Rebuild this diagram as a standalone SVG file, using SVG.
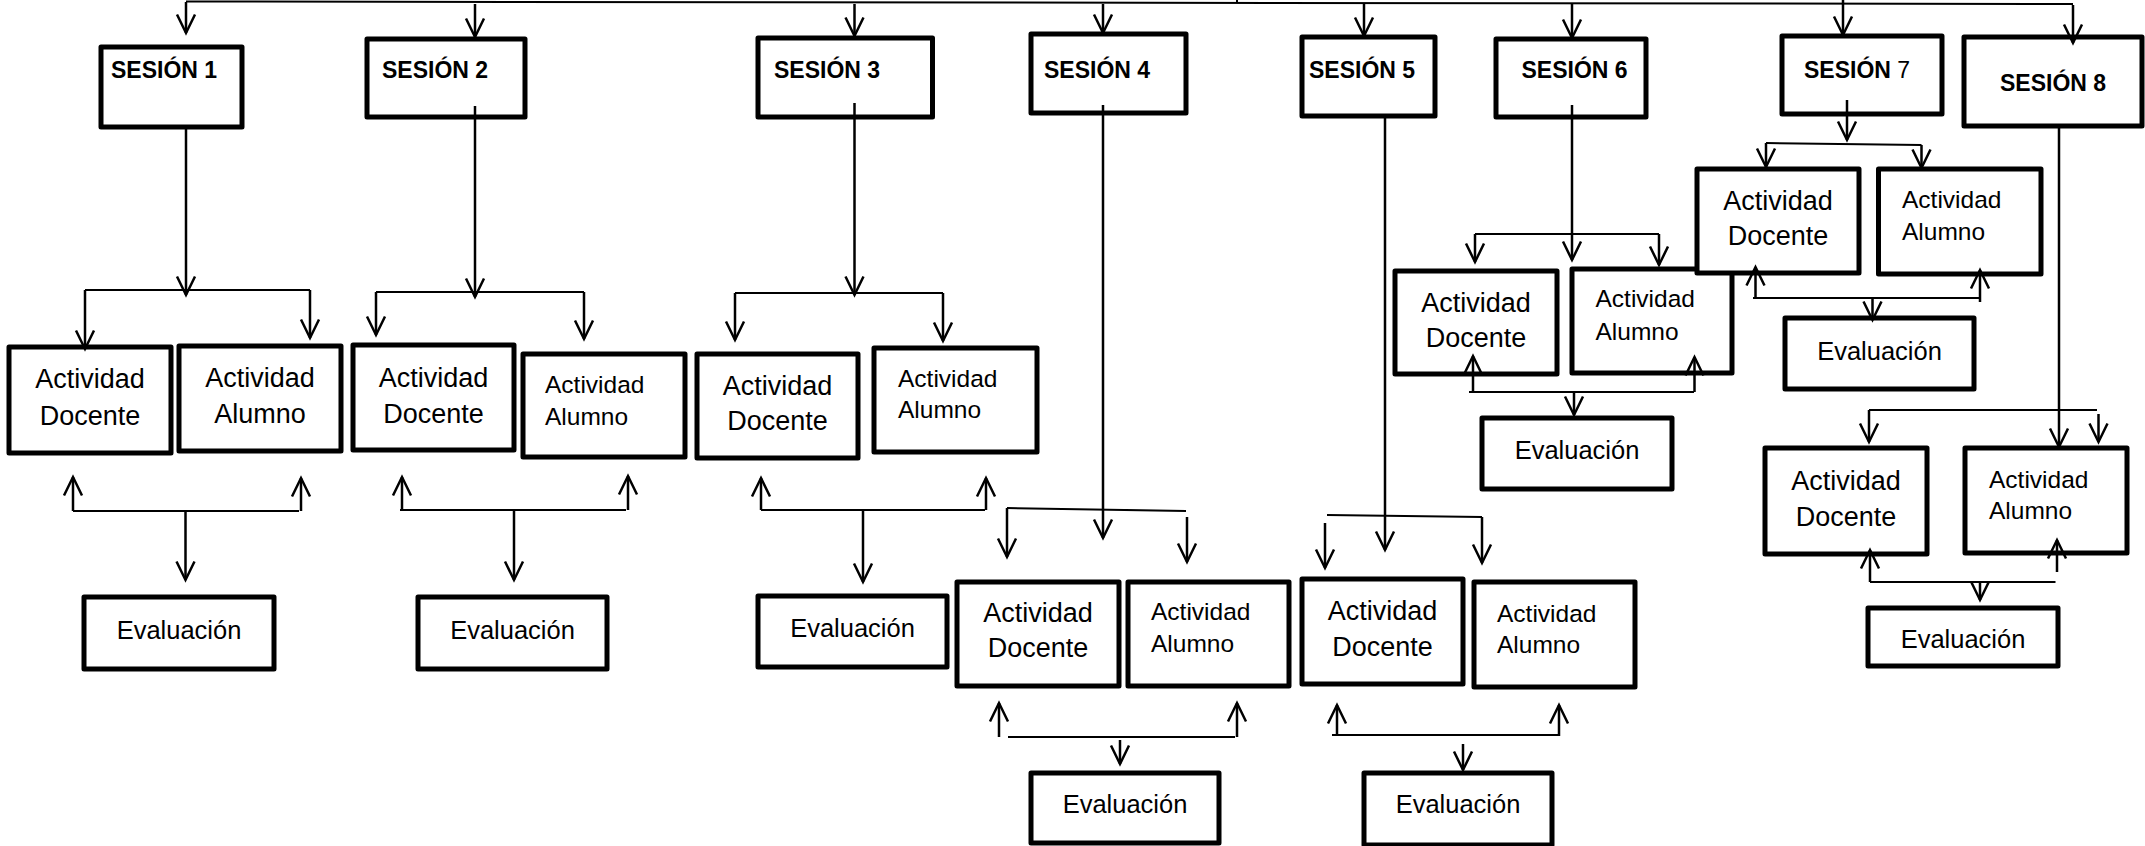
<svg xmlns="http://www.w3.org/2000/svg" width="2145" height="846" viewBox="0 0 2145 846">
<style>
.box{fill:#fff;stroke:#000;stroke-width:5;stroke-linejoin:round}
.c{stroke:#000;stroke-width:2;fill:none}
.a{stroke:#000;stroke-width:2.5;fill:none;marker-end:url(#ah)}
.s{font-family:"Liberation Sans",Arial,sans-serif;font-weight:bold;font-size:23px;fill:#000}
.t{font-family:"Liberation Sans",Arial,sans-serif;font-size:27px;fill:#000;text-anchor:middle}
.ts{font-family:"Liberation Sans",Arial,sans-serif;font-size:24.5px;fill:#000}
.e{font-family:"Liberation Sans",Arial,sans-serif;font-size:25.5px;fill:#000;text-anchor:middle}
</style>
<defs>
<marker id="ah" markerUnits="userSpaceOnUse" markerWidth="40" markerHeight="40" viewBox="-20 -20 40 40" refX="0" refY="0" orient="auto" overflow="visible">
<path d="M-18.5,-9 L0,0 L-18.5,9" fill="none" stroke="#000" stroke-width="2.5"/>
</marker>
</defs>
<rect width="2145" height="846" fill="#fff"/>

<g id="s1">
<rect class="box" x="101" y="47" width="141" height="80"/>
<text class="s" x="111" y="78">SESIÓN 1</text>
</g>
<g id="s1-docente"><rect class="box" x="9" y="347" width="162" height="106"/><text class="t" x="90" y="388">Actividad</text><text class="t" x="90" y="425">Docente</text></g>
<g id="s1-alumno"><rect class="box" x="179" y="346" width="162" height="105"/><text class="t" x="260" y="387">Actividad</text><text class="t" x="260" y="423">Alumno</text></g>
<g id="s1-eval"><rect class="box" x="84" y="597" width="190" height="72"/><text class="e" x="179" y="639">Evaluación</text></g>

<g id="s2">
<rect class="box" x="367" y="39" width="158" height="78"/>
<text class="s" x="382" y="78">SESIÓN 2</text>
</g>
<g id="s2-docente"><rect class="box" x="353" y="345" width="161" height="105"/><text class="t" x="433.5" y="387">Actividad</text><text class="t" x="433.5" y="423">Docente</text></g>
<g id="s2-alumno"><rect class="box" x="523" y="354" width="162" height="103"/><text class="ts" x="545" y="393">Actividad</text><text class="ts" x="545" y="425">Alumno</text></g>
<g id="s2-eval"><rect class="box" x="418" y="597" width="189" height="72"/><text class="e" x="512.5" y="639">Evaluación</text></g>

<g id="s3">
<rect class="box" x="758" y="38" width="174.5" height="79"/>
<text class="s" x="774" y="78">SESIÓN 3</text>
</g>
<g id="s3-docente"><rect class="box" x="697" y="354" width="161" height="104"/><text class="t" x="777.5" y="395">Actividad</text><text class="t" x="777.5" y="430">Docente</text></g>
<g id="s3-alumno"><rect class="box" x="874" y="348" width="163" height="104"/><text class="ts" x="898" y="387">Actividad</text><text class="ts" x="898" y="418">Alumno</text></g>
<g id="s3-eval"><rect class="box" x="758" y="596" width="189" height="71"/><text class="e" x="852.5" y="637">Evaluación</text></g>

<g id="s4">
<rect class="box" x="1031" y="34" width="155" height="79"/>
<text class="s" x="1044" y="78">SESIÓN 4</text>
</g>
<g id="s4-docente"><rect class="box" x="957" y="582" width="162" height="104"/><text class="t" x="1038" y="622">Actividad</text><text class="t" x="1038" y="657">Docente</text></g>
<g id="s4-alumno"><rect class="box" x="1128" y="582" width="161" height="104"/><text class="ts" x="1151" y="620">Actividad</text><text class="ts" x="1151" y="652">Alumno</text></g>
<g id="s4-eval"><rect class="box" x="1031" y="773" width="188" height="70"/><text class="e" x="1125" y="813">Evaluación</text></g>

<g id="s5">
<rect class="box" x="1302" y="37" width="133" height="79"/>
<text class="s" x="1309" y="78">SESIÓN 5</text>
</g>
<g id="s5-docente"><rect class="box" x="1302" y="579" width="161" height="105"/><text class="t" x="1382.5" y="620">Actividad</text><text class="t" x="1382.5" y="656">Docente</text></g>
<g id="s5-alumno"><rect class="box" x="1474" y="582" width="161" height="105"/><text class="ts" x="1497" y="622">Actividad</text><text class="ts" x="1497" y="653">Alumno</text></g>
<g id="s5-eval"><rect class="box" x="1364" y="773" width="188" height="72"/><text class="e" x="1458" y="813">Evaluación</text></g>

<g id="s6">
<rect class="box" x="1496" y="39" width="150" height="78"/>
<text class="s" x="1521.5" y="78">SESIÓN 6</text>
</g>
<g id="s6-docente"><rect class="box" x="1395" y="271" width="162" height="103"/><text class="t" x="1476" y="312">Actividad</text><text class="t" x="1476" y="347">Docente</text></g>
<g id="s6-alumno"><rect class="box" x="1572" y="269" width="160" height="104"/><text class="ts" x="1595.5" y="307">Actividad</text><text class="ts" x="1595.5" y="340">Alumno</text></g>
<g id="s6-eval"><rect class="box" x="1482" y="418" width="190" height="71"/><text class="e" x="1577" y="459">Evaluación</text></g>

<g id="s7">
<rect class="box" x="1782" y="36" width="160" height="78"/>
<text class="s" x="1804" y="78">SESIÓN <tspan font-weight="normal">7</tspan></text>
</g>
<g id="s7-docente"><rect class="box" x="1697" y="169" width="162" height="104"/><text class="t" x="1778" y="210">Actividad</text><text class="t" x="1778" y="245">Docente</text></g>
<g id="s7-alumno"><rect class="box" x="1878.5" y="169" width="162.5" height="105"/><text class="ts" x="1902" y="208">Actividad</text><text class="ts" x="1902" y="240">Alumno</text></g>
<g id="s7-eval"><rect class="box" x="1785" y="318" width="189" height="71"/><text class="e" x="1879.5" y="360">Evaluación</text></g>

<g id="s8">
<rect class="box" x="1964" y="37" width="178" height="89"/>
<text class="s" x="2000" y="91" font-size="21.5">SESIÓN 8</text>
</g>
<g id="s8-docente"><rect class="box" x="1765" y="448" width="162" height="106"/><text class="t" x="1846" y="490">Actividad</text><text class="t" x="1846" y="526">Docente</text></g>
<g id="s8-alumno"><rect class="box" x="1965" y="448" width="162" height="105"/><text class="ts" x="1989" y="488">Actividad</text><text class="ts" x="1989" y="519">Alumno</text></g>
<g id="s8-eval"><rect class="box" x="1868" y="608" width="190" height="58"/><text class="e" x="1963" y="648">Evaluación</text></g>

<g id="connectors">
<line class="c" x1="186" y1="1.5" x2="2073" y2="4"/>
<line class="c" x1="1237" y1="0" x2="1237" y2="3"/>
<line class="a" x1="186" y1="2" x2="186" y2="33"/>
<line class="a" x1="475" y1="4" x2="475" y2="37"/>
<line class="a" x1="854.5" y1="4" x2="854.5" y2="36"/>
<line class="a" x1="1103" y1="4" x2="1103" y2="33"/>
<line class="a" x1="1364" y1="4" x2="1364" y2="36"/>
<line class="a" x1="1572" y1="4" x2="1572" y2="38"/>
<line class="a" x1="1843" y1="0" x2="1843" y2="35"/>
<line class="a" x1="2073" y1="5" x2="2073" y2="43"/>

<!-- S1 -->
<line class="a" x1="186" y1="127" x2="186" y2="295"/>
<line class="c" x1="85" y1="290" x2="310" y2="290"/>
<line class="a" x1="85" y1="290" x2="85" y2="349"/>
<line class="a" x1="310" y1="290" x2="310" y2="338"/>
<line class="a" x1="73" y1="511" x2="73" y2="477"/>
<line class="a" x1="301" y1="511" x2="301" y2="478"/>
<line class="c" x1="73" y1="511" x2="299" y2="511"/>
<line class="a" x1="185.5" y1="511" x2="185.5" y2="580"/>

<!-- S2 -->
<line class="a" x1="475" y1="106" x2="475" y2="297"/>
<line class="c" x1="376" y1="292" x2="584" y2="292"/>
<line class="a" x1="376" y1="292" x2="376" y2="335"/>
<line class="a" x1="584" y1="292" x2="584" y2="339"/>
<line class="a" x1="402" y1="510" x2="402" y2="477"/>
<line class="a" x1="628" y1="510" x2="628" y2="476"/>
<line class="c" x1="400" y1="510" x2="626" y2="510"/>
<line class="a" x1="514" y1="510" x2="514" y2="580"/>

<!-- S3 -->
<line class="a" x1="854.5" y1="103" x2="854.5" y2="295"/>
<line class="c" x1="735" y1="293" x2="943" y2="293"/>
<line class="a" x1="735" y1="293" x2="735" y2="340"/>
<line class="a" x1="943" y1="293" x2="943" y2="341"/>
<line class="a" x1="761" y1="510" x2="761" y2="478"/>
<line class="a" x1="986" y1="510" x2="986" y2="478"/>
<line class="c" x1="761" y1="510" x2="985" y2="510"/>
<line class="a" x1="863" y1="510" x2="863" y2="582"/>

<!-- S4 -->
<line class="a" x1="1103" y1="105" x2="1103" y2="538"/>
<line class="c" x1="1007" y1="508" x2="1186" y2="511"/>
<line class="a" x1="1007" y1="508" x2="1007" y2="557"/>
<line class="a" x1="1187" y1="517" x2="1187" y2="562"/>
<line class="a" x1="999" y1="737" x2="999" y2="703"/>
<line class="a" x1="1237" y1="737" x2="1237" y2="703"/>
<line class="c" x1="1008" y1="737" x2="1235" y2="737"/>
<line class="a" x1="1120" y1="740" x2="1120" y2="764"/>

<!-- S5 -->
<line class="a" x1="1385" y1="116" x2="1385" y2="550"/>
<line class="c" x1="1327" y1="515" x2="1482" y2="517"/>
<line class="a" x1="1325" y1="523" x2="1325" y2="568"/>
<line class="a" x1="1482" y1="517" x2="1482" y2="563"/>
<line class="a" x1="1337" y1="735" x2="1337" y2="705"/>
<line class="a" x1="1559" y1="736" x2="1559" y2="705"/>
<line class="c" x1="1332" y1="735" x2="1559" y2="735"/>
<line class="a" x1="1463" y1="744" x2="1463" y2="770"/>

<!-- S6 -->
<line class="a" x1="1572" y1="105" x2="1572" y2="260"/>
<line class="c" x1="1475" y1="234" x2="1659" y2="234"/>
<line class="a" x1="1475" y1="234" x2="1475" y2="262"/>
<line class="a" x1="1659" y1="234" x2="1659" y2="265"/>
<line class="a" x1="1473" y1="392" x2="1473" y2="356"/>
<line class="a" x1="1694.5" y1="392" x2="1694.5" y2="357"/>
<line class="c" x1="1469" y1="392" x2="1694" y2="392"/>
<line class="a" x1="1574" y1="392" x2="1574" y2="415"/>

<!-- S7 -->
<line class="a" x1="1847" y1="100" x2="1847" y2="140"/>
<line class="c" x1="1766" y1="143" x2="1921.5" y2="145"/>
<line class="a" x1="1766" y1="143" x2="1766" y2="167"/>
<line class="a" x1="1921.5" y1="145" x2="1921.5" y2="168"/>
<line class="a" x1="1755.5" y1="298" x2="1755.5" y2="267"/>
<line class="a" x1="1980" y1="302" x2="1980" y2="270"/>
<line class="c" x1="1753" y1="298" x2="1979" y2="298"/>
<line class="a" x1="1872.5" y1="298" x2="1872.5" y2="320"/>

<!-- S8 -->
<line class="a" x1="2059" y1="126" x2="2059" y2="447"/>
<line class="c" x1="1869" y1="410" x2="2097" y2="410"/>
<line class="a" x1="1869" y1="410" x2="1869" y2="442"/>
<line class="a" x1="2098.5" y1="414" x2="2098.5" y2="442"/>
<line class="a" x1="1870" y1="582" x2="1870" y2="550"/>
<line class="a" x1="2057" y1="572" x2="2057" y2="540"/>
<line class="c" x1="1870" y1="582" x2="2055.5" y2="582"/>
<line class="a" x1="1980" y1="582" x2="1980" y2="600"/>
</g>
</svg>
